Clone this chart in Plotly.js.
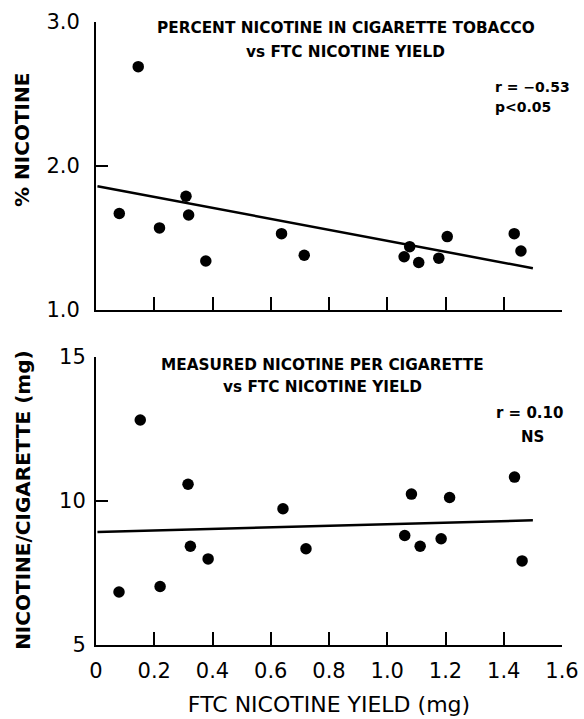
<!DOCTYPE html>
<html>
<head>
<meta charset="utf-8">
<script src="https://cdn.plot.ly/plotly-3.0.1.min.js"></script>
<style>html,body{margin:0;padding:0;background:#fff;}</style>
</head>
<body>
<div id="chart" style="width:584px;height:719px;"></div>
<script>
// FTC nicotine yield (mg) for each cigarette, as read in each panel
const topYield = [0.08, 0.145, 0.218, 0.309, 0.318, 0.377, 0.637, 0.715, 1.058, 1.077, 1.108, 1.177, 1.206, 1.436, 1.459];
const pctNicotine = [1.67, 2.69, 1.57, 1.79, 1.66, 1.34, 1.53, 1.38, 1.37, 1.44, 1.33, 1.36, 1.51, 1.53, 1.41];

const bottomYield = [0.079, 0.152, 0.220, 0.316, 0.324, 0.385, 0.642, 0.721, 1.060, 1.083, 1.113, 1.185, 1.214, 1.437, 1.463];
const nicPerCig = [6.84, 12.81, 7.03, 10.58, 8.43, 7.99, 9.73, 8.34, 8.80, 10.24, 8.43, 8.69, 10.12, 10.83, 7.92];

// regression lines
const fitX = [0.005, 1.5];
const topFit = [1.86, 1.29];
const bottomFit = [8.92, 9.33];

// ticks
const xTickVals = [0, 0.2, 0.4, 0.6, 0.8, 1.0, 1.2, 1.4, 1.6];
const xTickText = ["0", "0.2", "0.4", "0.6", "0.8", "1.0", "1.2", "1.4", "1.6"];
const topYTickVals = [1, 2, 3];
const topYTickText = ["1.0", "2.0", "3.0"];
const bottomYTickVals = [5, 10, 15];
const bottomYTickText = ["5", "10", "15"];

const FONT = "DejaVu Sans, sans-serif";
const marker = {color: "#000", size: 11.5};
const line = {color: "#000", width: 2.5};

const traces = [
  {x: topYield, y: pctNicotine, type: "scatter", mode: "markers", marker: marker, xaxis: "x", yaxis: "y", hoverinfo: "skip"},
  {x: fitX, y: topFit, type: "scatter", mode: "lines", line: line, xaxis: "x", yaxis: "y", hoverinfo: "skip"},
  {x: bottomYield, y: nicPerCig, type: "scatter", mode: "markers", marker: marker, xaxis: "x2", yaxis: "y2", hoverinfo: "skip"},
  {x: fitX, y: bottomFit, type: "scatter", mode: "lines", line: line, xaxis: "x2", yaxis: "y2", hoverinfo: "skip"}
];

const axCommon = {
  showgrid: false, zeroline: false, showline: true, linecolor: "#000", linewidth: 2,
  ticks: "inside", tickcolor: "#000", tickwidth: 2, fixedrange: true,
  tickfont: {family: FONT, size: 21, color: "#000"}
};

const TITLE_SIZE = 15.3;

const layout = {
  width: 584, height: 719,
  margin: {l: 96, r: 22, t: 22, b: 74},
  paper_bgcolor: "#fff", plot_bgcolor: "#fff",
  showlegend: false,
  font: {family: FONT, color: "#000"},
  xaxis: Object.assign({}, axCommon, {
    domain: [0, 1], range: [0, 1.6], anchor: "y",
    tickmode: "array", tickvals: xTickVals.slice(1), showticklabels: false, ticklen: 13
  }),
  yaxis: Object.assign({}, axCommon, {
    domain: [0.5377, 1], range: [1, 3], anchor: "x",
    tickmode: "array", tickvals: topYTickVals, ticktext: topYTickText, ticklen: 12,
    ticklabelstandoff: 10
  }),
  xaxis2: Object.assign({}, axCommon, {
    domain: [0, 1], range: [0, 1.6], anchor: "y2",
    tickmode: "array", tickvals: xTickVals, ticktext: xTickText, ticklen: 13,
    ticklabelstandoff: 6,
    title: {text: "FTC NICOTINE YIELD (mg)", font: {family: FONT, size: 22, color: "#000"}, standoff: 14}
  }),
  yaxis2: Object.assign({}, axCommon, {
    domain: [0, 0.4623], range: [5, 15], anchor: "x2",
    tickmode: "array", tickvals: bottomYTickVals, ticktext: bottomYTickText, ticklen: 12,
    ticklabelstandoff: 4
  }),
  annotations: [
    {xref: "paper", yref: "paper", x: -0.159, y: 0.8106, text: "<b>% NICOTINE</b>", textangle: -90, showarrow: false,
     xanchor: "center", yanchor: "middle", font: {family: FONT, size: 20, color: "#000"}},
    {xref: "paper", yref: "paper", x: -0.157, y: 0.2327, text: "<b>NICOTINE/CIGARETTE (mg)</b>", textangle: -90, showarrow: false,
     xanchor: "center", yanchor: "middle", font: {family: FONT, size: 20, color: "#000"}},
    {xref: "paper", yref: "paper", x: 0.536, y: 0.990, text: "<b>PERCENT NICOTINE IN CIGARETTE TOBACCO</b>", showarrow: false,
     xanchor: "center", yanchor: "middle", font: {family: FONT, size: TITLE_SIZE, color: "#000"}},
    {xref: "paper", yref: "paper", x: 0.536, y: 0.952, text: "<b>vs FTC NICOTINE YIELD</b>", showarrow: false,
     xanchor: "center", yanchor: "middle", font: {family: FONT, size: TITLE_SIZE, color: "#000"}},
    {xref: "paper", yref: "paper", x: 0.852, y: 0.8957, text: "<b>r = −0.53</b>", showarrow: false,
     xanchor: "left", yanchor: "middle", font: {family: FONT, size: 14, color: "#000"}},
    {xref: "paper", yref: "paper", x: 0.852, y: 0.8636, text: "<b>p&lt;0.05</b>", showarrow: false,
     xanchor: "left", yanchor: "middle", font: {family: FONT, size: 14, color: "#000"}},
    {xref: "paper", yref: "paper", x: 0.487, y: 0.4494, text: "<b>MEASURED NICOTINE PER CIGARETTE</b>", showarrow: false,
     xanchor: "center", yanchor: "middle", font: {family: FONT, size: TITLE_SIZE, color: "#000"}},
    {xref: "paper", yref: "paper", x: 0.487, y: 0.4141, text: "<b>vs FTC NICOTINE YIELD</b>", showarrow: false,
     xanchor: "center", yanchor: "middle", font: {family: FONT, size: TITLE_SIZE, color: "#000"}},
    {xref: "paper", yref: "paper", x: 0.931, y: 0.3724, text: "<b>r = 0.10</b>", showarrow: false,
     xanchor: "center", yanchor: "middle", font: {family: FONT, size: 15, color: "#000"}},
    {xref: "paper", yref: "paper", x: 0.936, y: 0.3339, text: "<b>NS</b>", showarrow: false,
     xanchor: "center", yanchor: "middle", font: {family: FONT, size: 15, color: "#000"}}
  ]
};

Plotly.newPlot("chart", traces, layout, {displayModeBar: false, staticPlot: true});
</script>
</body>
</html>
